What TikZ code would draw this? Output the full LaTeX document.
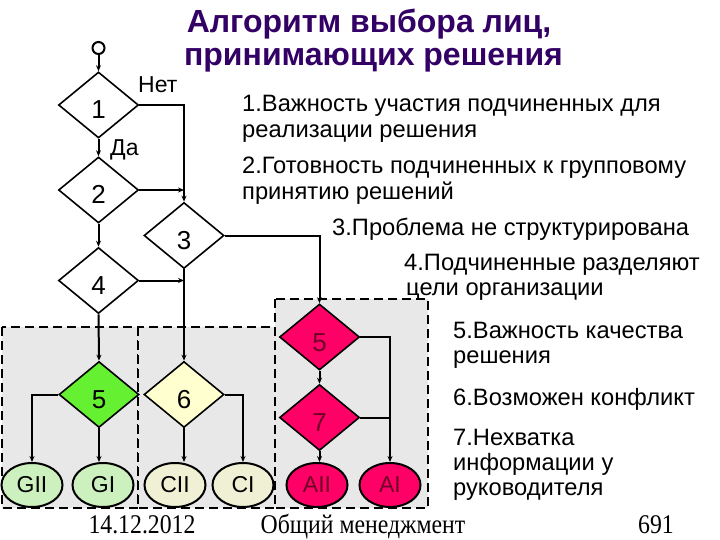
\documentclass[tikz,border=0pt]{standalone}
\usepackage{fontspec}
\setmainfont{Liberation Sans}
\newfontfamily\footfont[FakeStretch=0.88]{Liberation Serif}
\usetikzlibrary{shapes.geometric,arrows.meta}
\definecolor{titlepurple}{RGB}{51,0,102}
\definecolor{boxgrey}{RGB}{232,232,232}
\definecolor{groupgreen}{RGB}{102,240,50}
\definecolor{leafgreen}{RGB}{204,240,190}
\definecolor{groupyellow}{RGB}{255,255,208}
\definecolor{leafyellow}{RGB}{240,240,212}
\definecolor{autopink}{RGB}{255,0,102}
\definecolor{pinktext}{RGB}{110,0,40}

\begin{document}
\begin{tikzpicture}[x=1pt,y=-1pt,
    test/.style={diamond,draw,line width=1.6pt,fill=white,minimum width=80pt,minimum height=66pt,inner sep=0pt,text height=28pt,text depth=0pt,font=\fontsize{26}{26}\selectfont},
    leaf/.style={ellipse,draw,line width=2pt,minimum width=61pt,minimum height=44pt,inner sep=0pt,font=\fontsize{23}{23}\selectfont},
    flow/.style={line width=2pt},
    arr/.style={flow,-{Stealth[length=6pt,width=5pt]}},
    group/.style={fill=boxgrey,draw,line width=2.5pt,dash pattern=on 9pt off 5pt},
    note/.style={anchor=base west,inner sep=0pt,font=\fontsize{23.7}{23.7}\selectfont},
    foot/.style={anchor=base,font=\footfont\fontsize{27}{27}\selectfont}]
    % Draw the page
    \fill[white] (0,0) rectangle (720,540);
    \useasboundingbox (0,0) rectangle (720,540);
    % Draw the title
    \node[anchor=base,text=titlepurple,font=\bfseries\fontsize{32}{32}\selectfont] (title1) at (369,33) {Алгоритм выбора лиц,};
    \node[anchor=base,text=titlepurple,font=\bfseries\fontsize{32}{32}\selectfont] (title2) at (373.5,66) {принимающих решения};
    % Draw the grey groups
    \draw[group] (2,327) rectangle (138,508);
    \draw[group] (138,327) rectangle (275,508);
    \draw[group] (275,299) rectangle (428,508);
    % Draw the questions
    \node[circle,draw,line width=2pt,fill=white,minimum size=12pt,inner sep=0pt] (start) at (98.5,48) {};
    \node[test] (q1) at (98.5,105) {1};
    \node[test] (q2) at (98.5,190) {2};
    \node[test] (q3) at (184,235.5) {3};
    \node[test] (q4) at (98.5,280.5) {4};
    \node[test,fill=groupgreen] (g5) at (99,394.5) {5};
    \node[test,fill=groupyellow] (c6) at (184,394.5) {6};
    \node[test,fill=autopink,text=pinktext] (a5) at (319.5,337) {5};
    \node[test,fill=autopink,text=pinktext] (a7) at (319.5,417.5) {7};
    % Draw the styles
    \node[leaf,fill=leafgreen] (gii) at (32,485) {GII};
    \node[leaf,fill=leafgreen] (gi) at (103,485) {GI};
    \node[leaf,fill=leafyellow] (cii) at (175,485) {CII};
    \node[leaf,fill=leafyellow] (ci) at (243,485) {CI};
    \node[leaf,fill=autopink,text=pinktext] (aii) at (317,485) {AII};
    \node[leaf,fill=autopink,text=pinktext] (ai) at (390,485) {AI};
    % Draw the connectors
    \draw[arr] (start.south) -- (q1.north);
    \draw[arr] (q1.south) -- (q2.north);
    \draw[arr] (q2.south) -- (q4.north);
    \draw[arr] (q1.east) -| (q3.north);
    \draw[arr] (q2.east) -- (q2.east -| q3.north);
    \draw[arr] (q4.east) -- (q4.east -| q3.south);
    \draw[arr] (q3.east) -| (a5.north);
    \draw[arr] (q3.south) -- (c6.north);
    \draw[arr] (q4.south) -- (g5.north);
    \draw[arr] (g5.west) -| (gii.north);
    \draw[arr] (g5.south) -- (g5.south |- gi.north);
    \draw[arr] (c6.south) -- (c6.south |- cii.north);
    \draw[arr] (c6.east) -| (ci.north);
    \draw[arr] (a5.south) -- (a7.north);
    \draw[arr] (a5.east) -| (ai.north);
    \draw[flow] (a7.east) -- (a7.east -| ai.north);
    \draw[arr] (a7.south) -- (a7.south |- aii.north);
    % Label the branches
    \node[anchor=base west,inner sep=0pt,font=\fontsize{23}{23}\selectfont] (no) at (138,93) {Нет};
    \node[anchor=base west,inner sep=0pt,font=\fontsize{23}{23}\selectfont] (yes) at (110,156) {Да};
    % Write the conditions
    \node[note] (n1a) at (242,112) {1.Важность участия подчиненных для};
    \node[note] (n1b) at (242,138) {реализации решения};
    \node[note] (n2a) at (242,174) {2.Готовность подчиненных к групповому};
    \node[note] (n2b) at (242,200) {принятию решений};
    \node[note] (n3) at (332,236) {3.Проблема не структурирована};
    \node[note] (n4a) at (404,270) {4.Подчиненные разделяют};
    \node[note] (n4b) at (406,295) {цели организации};
    \node[note] (n5a) at (453,338) {5.Важность качества};
    \node[note] (n5b) at (453,363) {решения};
    \node[note] (n6) at (453,405) {6.Возможен конфликт};
    \node[note] (n7a) at (453,445) {7.Нехватка};
    \node[note] (n7b) at (453,470) {информации у};
    \node[note] (n7c) at (453,495) {руководителя};
    % Write the footer
    \node[foot] (date) at (142,533) {14.12.2012};
    \node[foot] (course) at (363,533) {Общий менеджмент};
    \node[foot] (page) at (656,533) {691};
\end{tikzpicture}
\end{document}
